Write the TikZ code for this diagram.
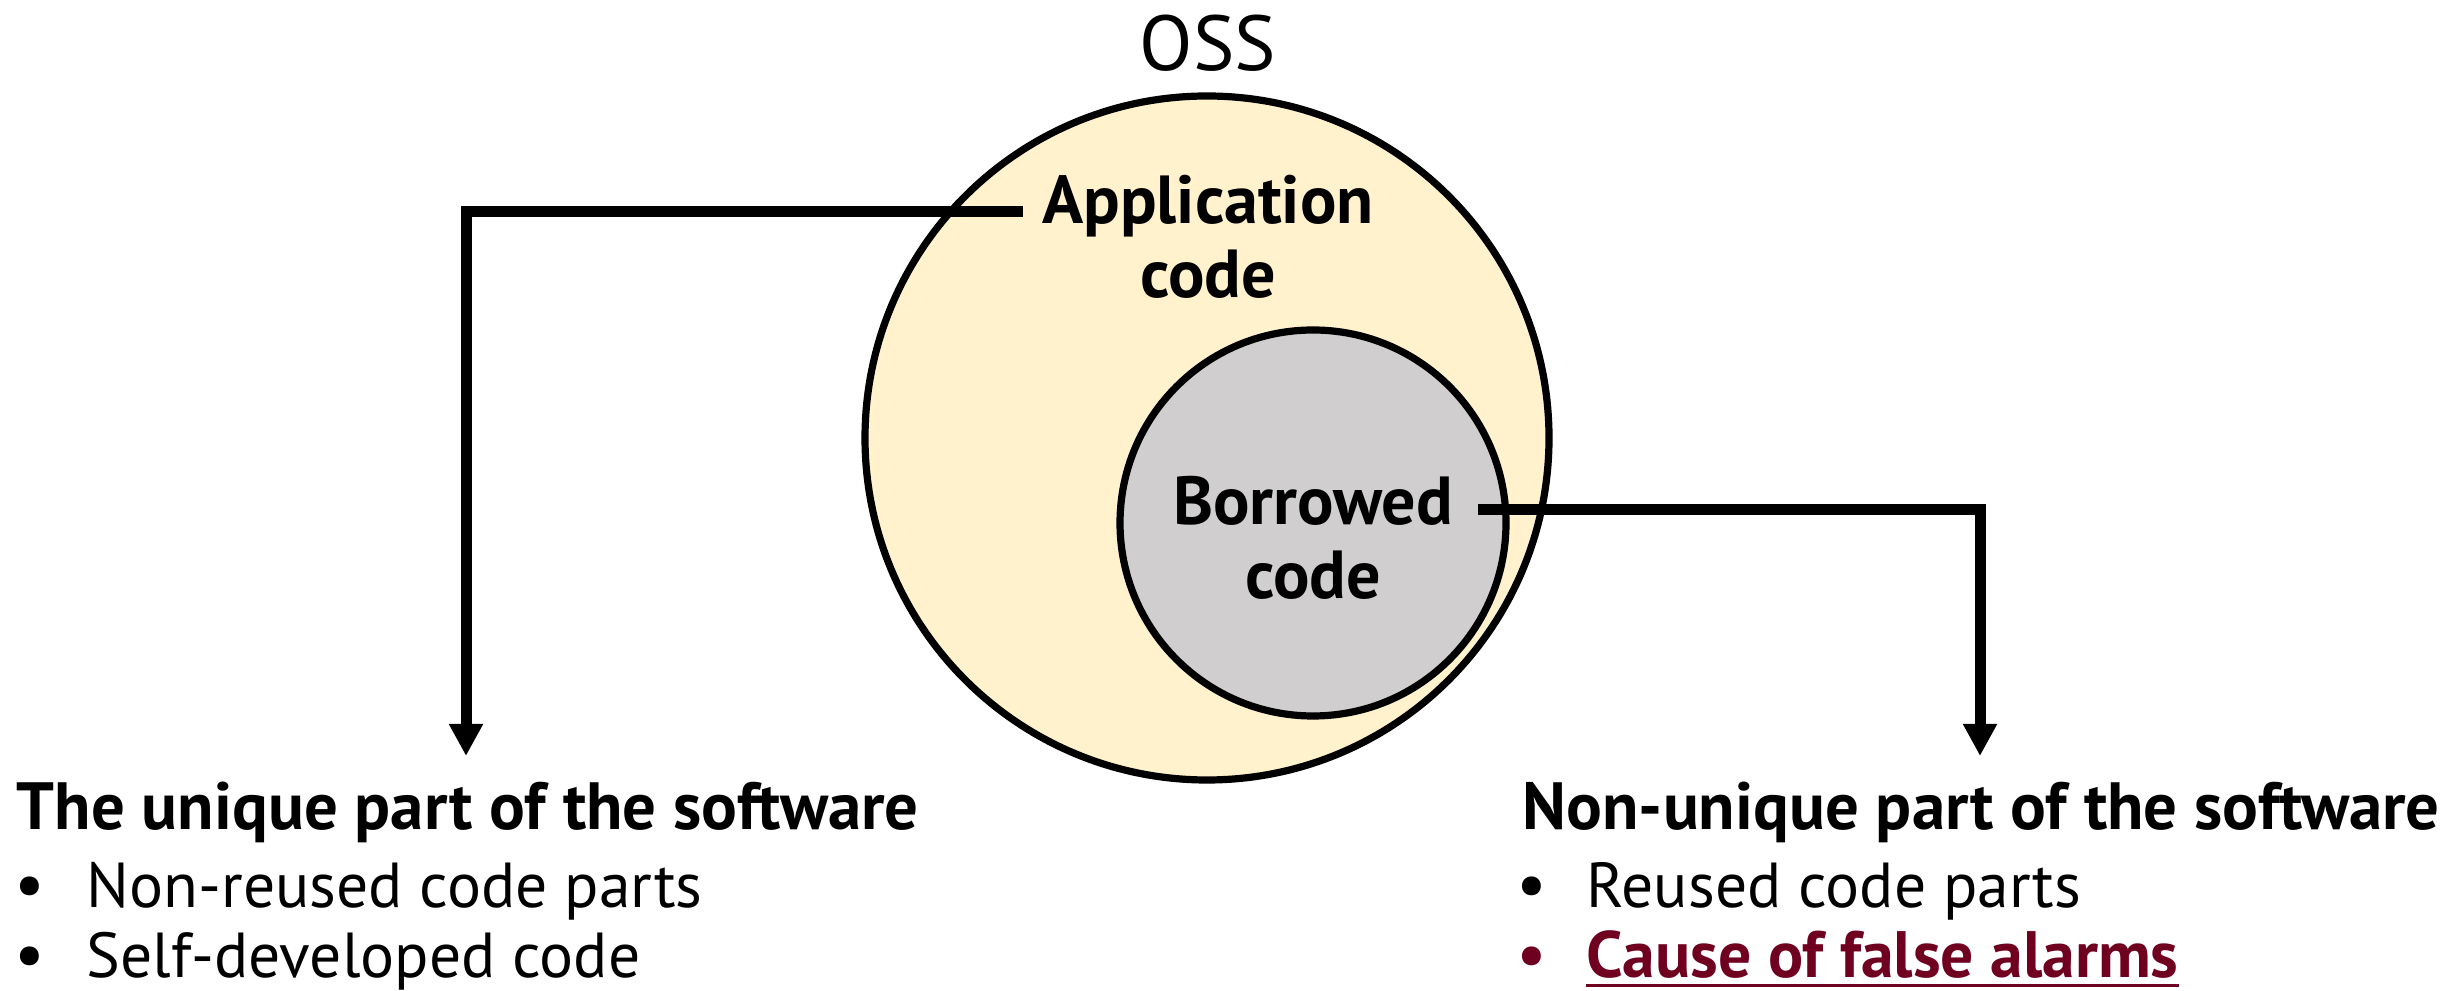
\documentclass[tikz,border=0pt]{standalone}
\usepackage{fontspec}
\setmainfont{PT Sans}
\usetikzlibrary{arrows.meta}
\definecolor{appfill}{RGB}{255,242,204}
\definecolor{borfill}{RGB}{208,206,206}
\definecolor{alarm}{RGB}{112,0,32}
\begin{document}
\begin{tikzpicture}[x=0.25pt,y=-0.25pt,
  ring/.style={circle, draw=black, line width=1.8pt, inner sep=0pt},
  conn/.style={line width=2.75pt, -{Triangle[width=8pt,length=8pt]}},
  lbl/.style={font=\fontsize{17}{18.5}\selectfont\bfseries, align=center, inner sep=0pt},
  head/.style={font=\fontsize{16.7}{19}\selectfont\bfseries, anchor=base west, inner sep=0pt},
  item/.style={font=\fontsize{15.9}{19}\selectfont, anchor=base west, inner sep=0pt},
  dot/.style={font=\fontsize{17}{19}\selectfont, anchor=base west, inner sep=0pt}]
\useasboundingbox (0,0) rectangle (2460,991);
% circles
\node[ring, fill=appfill, minimum size=171pt] (oss) at (1207,438) {};
\node[ring, fill=borfill, minimum size=96.5pt] (bor) at (1313,523) {};
% labels
\node[font=\fontsize{19.5}{21}\selectfont, anchor=base, inner sep=0pt] (osst) at (1208,71) {OSS};
\node[lbl, anchor=base] (app) at (1208,298) {Application\\code};
\node[lbl, anchor=base] (borl) at (1313,599) {Borrowed\\code};
% connector anchors
\coordinate (append) at (1023,212);
\coordinate (borend) at (1478,510);
\coordinate (ltip) at (466,756);
\coordinate (rtip) at (1980,756);
% left text
\node[head] (lh) at (16,830) {The unique part of the software};
\node[dot] (lb1) at (14,907) {•};
\node[item] (li1) at (86,907) {Non-reused code parts};
\node[dot] (lb2) at (14,977) {•};
\node[item] (li2) at (86,977) {Self-developed code};
% right text
\node[head] (rh) at (1522,830) {Non-unique part of the software};
\node[dot] (rb1) at (1516,907) {•};
\node[item] (ri1) at (1586,907) {Reused code parts};
\node[dot, text=alarm] (rb2) at (1516,977) {•};
\node[item, text=alarm, font=\fontsize{16.4}{19}\selectfont\bfseries] (ri2) at (1586,977) {Cause of false alarms};
\draw[alarm, line width=0.8pt] ([yshift=-2.2pt]ri2.base west) -- ([yshift=-2.2pt]ri2.base east);
% connectors
\draw[conn] (append) -| (ltip);
\draw[conn] (borend) -| (rtip);
\end{tikzpicture}
\end{document}
